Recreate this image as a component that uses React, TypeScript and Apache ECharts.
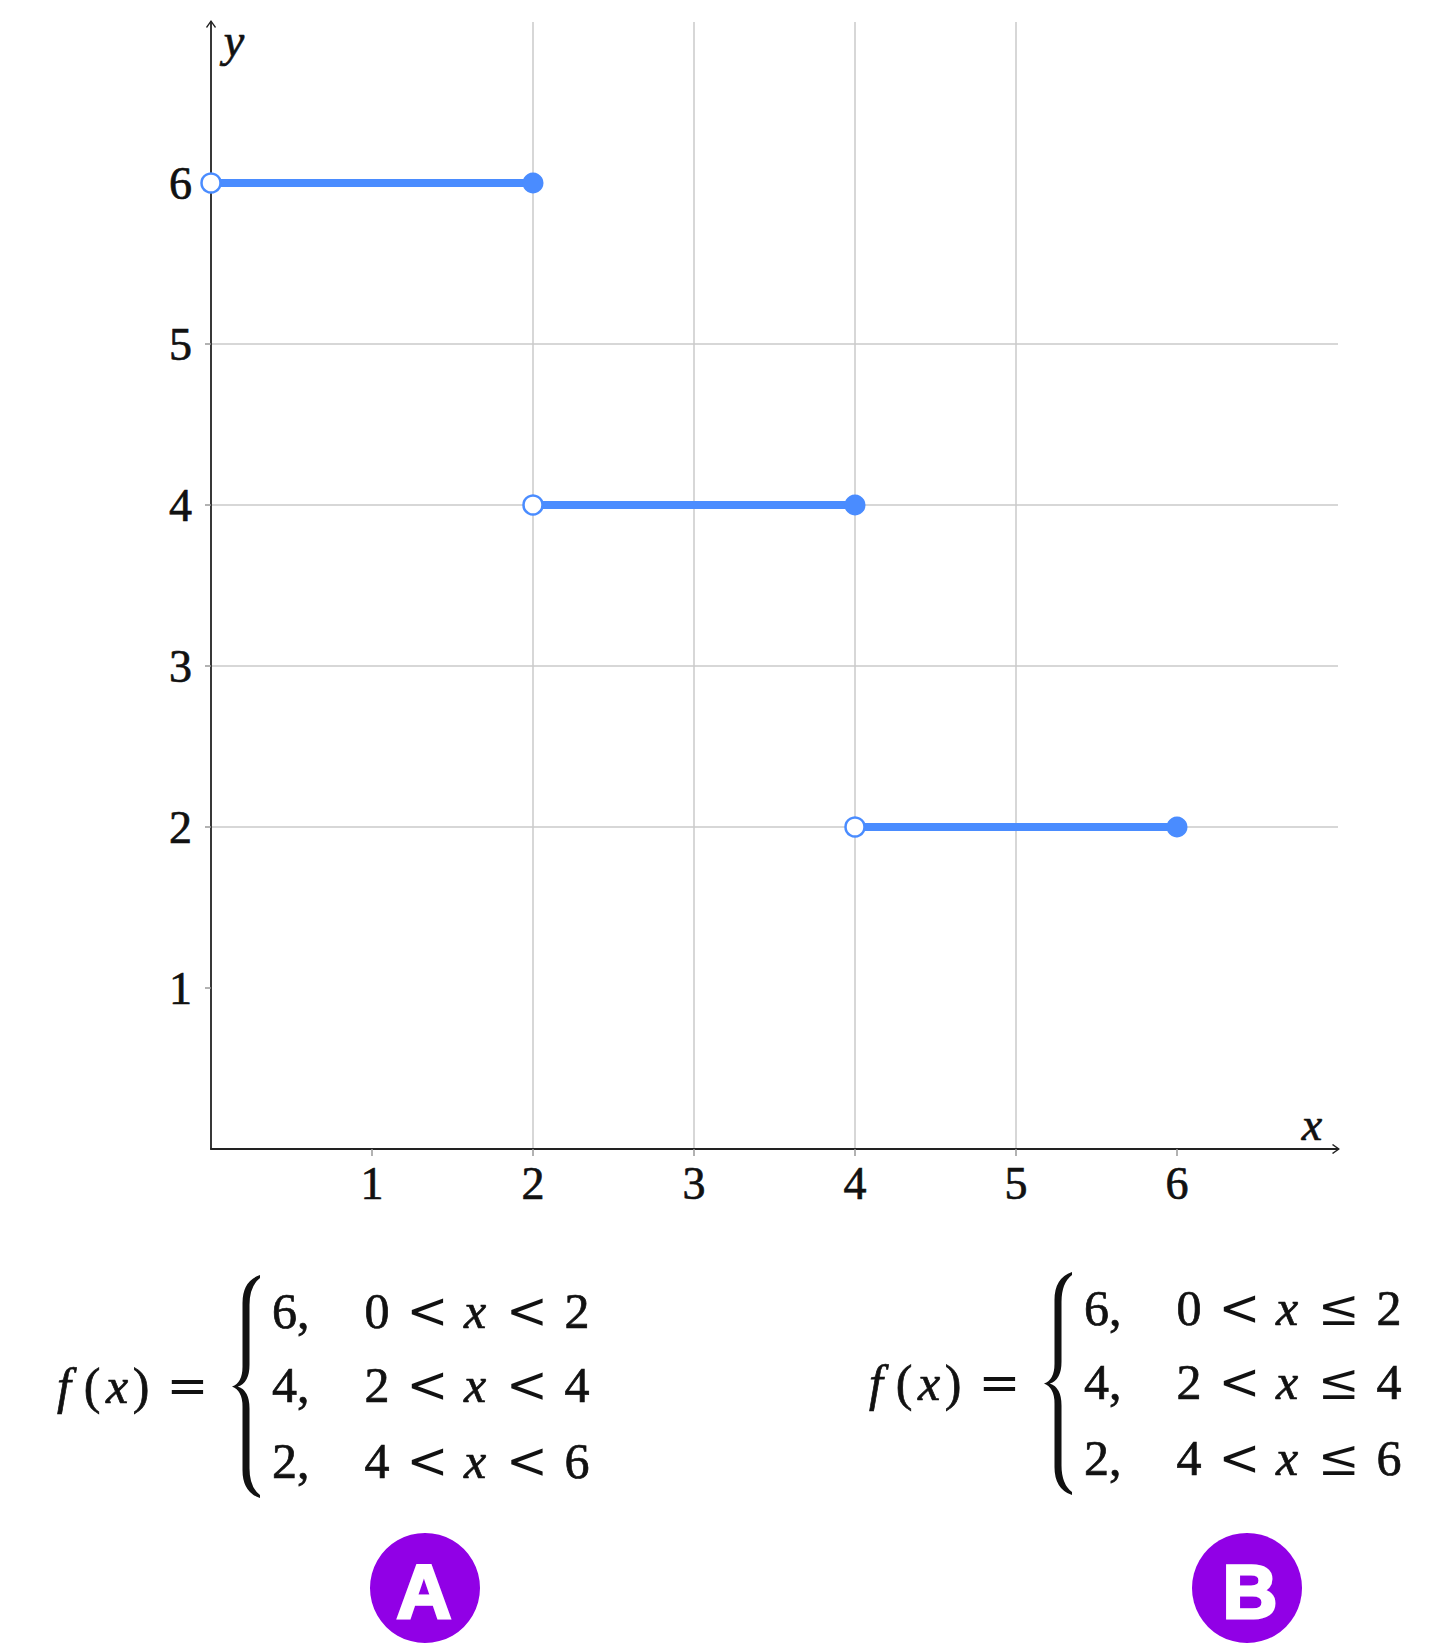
import React, { useEffect, useRef } from "react";
import * as echarts from "echarts";

// ---- data ----
const segStartX = [0, 2, 4];
const segEndX = [2, 4, 6];
const segY = [6, 4, 2];
const xTickValues = [1, 2, 3, 4, 5, 6];
const yTickValues = [1, 2, 3, 4, 5, 6];
const axisMin = 0;
const axisMax = 7;
const rowValues = ["6", "4", "2"];
const rowLower = ["0", "2", "4"];
const rowUpper = ["2", "4", "6"];
const relationA = "<";
const relationB = "\u2264";
const badgeLabels = ["A", "B"];

const BLUE = "#4A8CFF";
const PURPLE = "#9100E6";
const INK = "#111";
const SERIF = "Liberation Serif, DejaVu Serif, serif";
const MATHOP = "DejaVu Serif, Liberation Serif, serif";
const FS = 46;
const FFS = 50;

const ARROW = "path://M5 0 L10 7 L9 8 L5 2.3 L1 8 L0 7 Z";
const BRACE_D =
  "M24 0 Q9 6 9 28 L9 92 Q9 108 0 112 Q9 116 9 132 L9 196 Q9 218 24 224 L24 221 Q15 213 15 194 L15 134 Q15 116 5 112 Q15 108 15 90 L15 30 Q15 11 24 3 Z";

let braceRegistered = false;
function ensureBrace() {
  if (braceRegistered) return;
  echarts.graphic.registerShape("brace", echarts.graphic.extendPath(BRACE_D, {}) as any);
  braceRegistered = true;
}

// layout of formula A (page pixels); formula B is the same layout shifted
const F = {
  f: 64, lp: 92, x: 117, rp: 141, eq: 187.5,
  brace: [232, 1275, 28, 223],
  val: 272, lo: 377, r1: 427.5, xv: 475, r2: 527, up: 577,
  fy: 1386,
  rows: [1311, 1385, 1461],
};

function txt(text: string, x: number, y: number, opts: any = {}) {
  const align = opts.align || "center";
  return {
    type: "text",
    x,
    y,
    silent: true,
    z: 10,
    style: {
      text,
      fontFamily: opts.family || SERIF,
      fontSize: opts.size || FS,
      fontStyle: opts.italic ? "italic" : "normal",
      fill: INK,
      stroke: INK,
      lineWidth: opts.family === MATHOP ? 0 : 0.7,
      align,
      textAlign: align,
      verticalAlign: "middle",
      textVerticalAlign: "middle",
    },
  };
}

function formula(dx: number, dy: number, rel: string) {
  const els: any[] = [];
  const fy = F.fy + dy;
  els.push(txt("f", F.f + dx, fy, { italic: true, size: FFS }));
  els.push(txt("(", F.lp + dx, fy, { size: FFS }));
  els.push(txt("x", F.x + dx, fy, { italic: true, size: FFS }));
  els.push(txt(")", F.rp + dx, fy, { size: FFS }));
  els.push(txt("=", F.eq + dx, fy, { size: FFS, family: MATHOP }));
  const [bx, by, bw, bh] = F.brace;
  els.push({
    type: "brace",
    x: bx + dx,
    y: by + dy,
    scaleX: bw / 24,
    scaleY: bh / 224,
    silent: true,
    style: { fill: INK },
  });
  rowValues.forEach((v, i) => {
    const y = F.rows[i] + dy;
    els.push(txt(v + ",", F.val + dx, y, { align: "left", size: FFS }));
    els.push(txt(rowLower[i], F.lo + dx, y, { size: FFS }));
    els.push(txt("<", F.r1 + dx, y, { size: FFS, family: MATHOP }));
    els.push(txt("x", F.xv + dx, y, { italic: true, size: FFS }));
    els.push(txt(rel, F.r2 + dx, y, { size: FFS, family: MATHOP }));
    els.push(txt(rowUpper[i], F.up + dx, y, { size: FFS }));
  });
  return els;
}

function badge(label: string, cx: number, cy: number, dx: number) {
  return [
    { type: "circle", silent: true, shape: { cx, cy, r: 55 }, style: { fill: PURPLE } },
    {
      type: "text",
      x: cx + dx,
      y: cy + 3,
      silent: true,
      style: {
        text: label,
        fontFamily: "Liberation Sans, Arial, sans-serif",
        fontWeight: "bold",
        fontSize: 76,
        fill: "#fff",
        stroke: "#fff",
        lineWidth: 3,
        align: "center",
        textAlign: "center",
        verticalAlign: "middle",
        textVerticalAlign: "middle",
      },
    },
  ];
}

export default function App() {
  const ref = useRef<HTMLDivElement>(null);
  useEffect(() => {
    if (!ref.current) return;
    ensureBrace();
    const chart = echarts.init(ref.current, null, { renderer: "svg" });

    const lineSeries = segY.map((y, i) => ({
      type: "line",
      data: [
        [segStartX[i], y],
        [segEndX[i], y],
      ],
      symbol: "none",
      showSymbol: false,
      silent: true,
      clip: false,
      z: 3,
      lineStyle: { color: BLUE, width: 8, cap: "butt" },
    }));

    const labelStyle = {
      fontFamily: SERIF,
      fontSize: FS,
      color: INK,
      textBorderColor: INK,
      textBorderWidth: 0.7,
    };

    const axisCommon = {
      type: "value",
      min: axisMin,
      max: axisMax,
      interval: 1,
      axisLine: {
        show: true,
        onZero: true,
        symbol: ["none", ARROW],
        symbolSize: [10, 8],
        symbolOffset: [0, -2],
        lineStyle: { color: "#222", width: 1.8 },
      },
      splitLine: {
        show: true,
        showMinLine: false,
        showMaxLine: false,
        lineStyle: { color: "#cacaca", width: 1.5 },
      },
    };

    chart.setOption({
      animation: false,
      backgroundColor: "#fff",
      grid: { left: 211, top: 22, width: 1127, height: 1127, outerBoundsMode: "none", containLabel: false },
      xAxis: {
        ...axisCommon,
        axisTick: { show: true, customValues: xTickValues, length: 7, lineStyle: { color: "#999", width: 1.5 } },
        axisLabel: { customValues: xTickValues, margin: 11, ...labelStyle },
      },
      yAxis: {
        ...axisCommon,
        axisTick: { show: true, customValues: yTickValues, length: 6, lineStyle: { color: "#999", width: 1.5 } },
        axisLabel: { customValues: yTickValues, margin: 19, ...labelStyle },
      },
      series: [
        ...lineSeries,
        {
          type: "scatter",
          data: segStartX.map((x, i) => [x, segY[i]]),
          symbol: "circle",
          symbolSize: 19,
          clip: false,
          silent: true,
          z: 5,
          itemStyle: { color: "#fff", borderColor: BLUE, borderWidth: 2.5, opacity: 1 },
        },
        {
          type: "scatter",
          data: segEndX.map((x, i) => [x, segY[i]]),
          symbol: "circle",
          symbolSize: 21,
          clip: false,
          silent: true,
          z: 5,
          itemStyle: { color: BLUE, opacity: 1 },
        },
      ],
    });

    // axis names placed relative to the axis ends, via the chart's own scales
    const xEnd = chart.convertToPixel({ gridIndex: 0 }, [axisMax, axisMin]) as number[];
    const yEnd = chart.convertToPixel({ gridIndex: 0 }, [axisMin, axisMax]) as number[];

    chart.setOption({
      graphic: {
        elements: [
          txt("x", xEnd[0] - 26, xEnd[1] - 25, { italic: true }),
          txt("y", yEnd[0] + 23, yEnd[1] + 18, { italic: true }),
          ...formula(0, 0, relationA),
          ...formula(812, -3, relationB),
          ...badge(badgeLabels[0], 425, 1588, -1),
          ...badge(badgeLabels[1], 1247, 1588, 3),
        ],
      },
    });
    return () => chart.dispose();
  }, []);
  return (
    <div
      ref={ref}
      style={{ position: "absolute", left: 0, top: 0, width: 1438, height: 1650, background: "#fff" }}
    />
  );
}
